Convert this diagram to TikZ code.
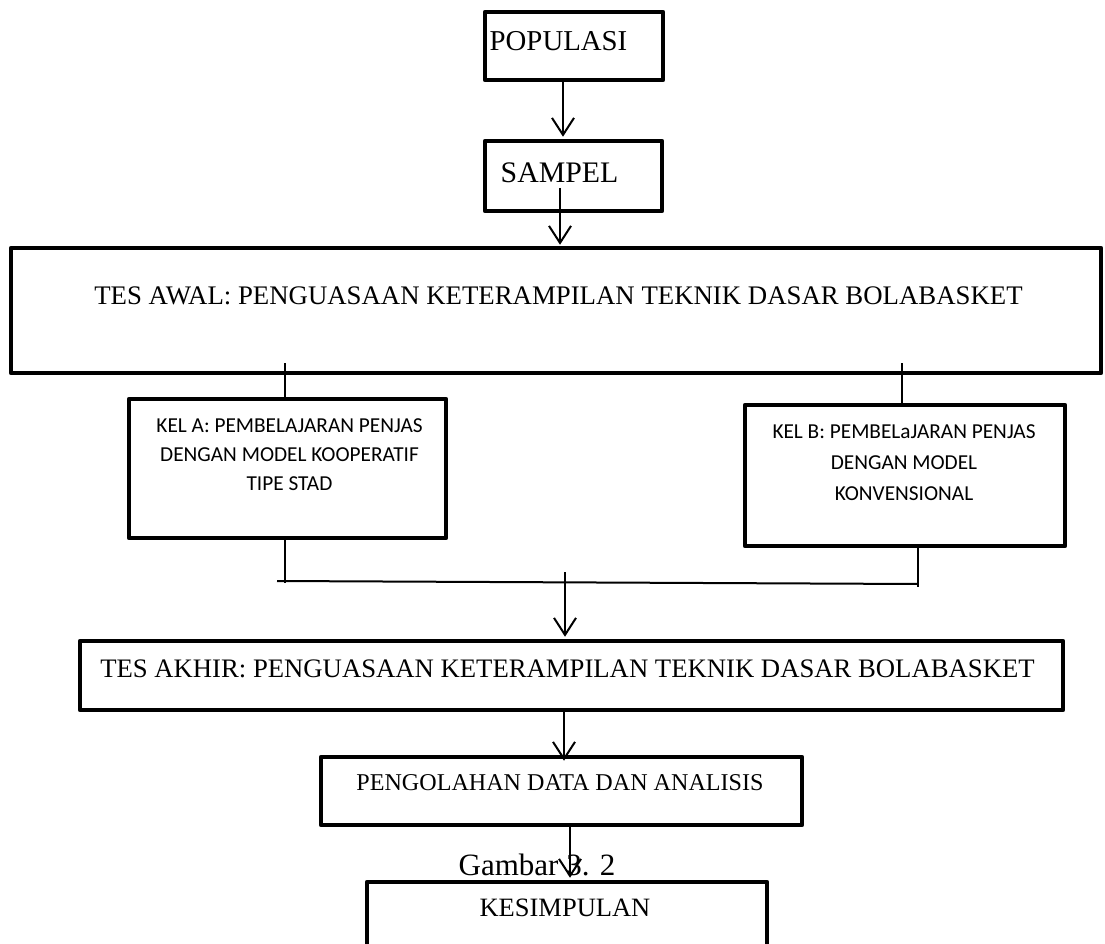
\documentclass[tikz,border=0pt]{standalone}
\usepackage{fontspec}
\setmainfont{Liberation Serif}
\newfontfamily\calibri{Carlito}
\usetikzlibrary{arrows.meta,calc}
\begin{document}
\begin{tikzpicture}[x=1pt,y=-1pt,
  box/.style={draw,line width=4.5pt,line join=round,inner sep=0pt,minimum width=#1},
  lbl/.style={inner sep=0pt,anchor=center},
  conn/.style={line width=2pt},
  arr/.style={line width=2pt,-{Straight Barb[length=17pt,width=22pt]}}]
\useasboundingbox (0,0) rectangle (1105,944);
\clip (0,0) rectangle (1105,944);
\fill[white] (0,0) rectangle (1105,944);
% boxes (path centres)
\node[box=178pt,minimum height=68pt] (pop) at (574,46) {};
\node[box=177pt,minimum height=70pt] (sam) at (573.5,176) {};
\node[box=1090pt,minimum height=125pt] (awal) at (556,310.5) {};
\node[box=317pt,minimum height=139pt] (kela) at (287.5,468.5) {};
\node[box=320pt,minimum height=141pt] (kelb) at (905,475.5) {};
\node[box=983pt,minimum height=69pt] (akhir) at (571.5,675.5) {};
\node[box=481pt,minimum height=68pt] (olah) at (561.5,791) {};
\node[box=400pt,minimum height=100pt] (simp) at (567,932) {};
% texts
\node[lbl,font=\fontsize{28.8}{30}\selectfont] (tpop) at (558.5,41) {POPULASI};
\node[lbl,font=\fontsize{29.8}{30}\selectfont] (tsam) at (559.5,172.5) {SAMPEL};
\node[lbl,font=\fontsize{26.8}{30}\selectfont] (tawal) at (558.5,296) {TES AWAL: PENGUASAAN KETERAMPILAN TEKNIK DASAR BOLABASKET};
\node[inner sep=0pt,anchor=north,align=center,font=\calibri\fontsize{21.3}{29}\selectfont] (tkela) at (289.5,418) {KEL A: PEMBELAJARAN PENJAS\\DENGAN MODEL KOOPERATIF\\TIPE STAD};
\node[inner sep=0pt,anchor=north,align=center,font=\calibri\fontsize{21.3}{31}\selectfont] (tkelb) at (904,424) {KEL B: PEMBELaJARAN PENJAS\\DENGAN MODEL\\KONVENSIONAL};
\node[lbl,font=\fontsize{26.7}{30}\selectfont] (takhir) at (567.5,669) {TES AKHIR: PENGUASAAN KETERAMPILAN TEKNIK DASAR BOLABASKET};
\node[lbl,font=\fontsize{24.1}{30}\selectfont] (tolah) at (560,783) {PENGOLAHAN DATA DAN ANALISIS};
\node[lbl,font=\fontsize{26.5}{30}\selectfont] (tsimp) at (565,908) {KESIMPULAN};
% connector coordinates
\coordinate (c1) at (563,0);
\coordinate (c2) at (560,188);
\coordinate (c3) at (285,363);
\coordinate (c4) at (902,363);
\coordinate (c5) at (285,583);
\coordinate (c6) at (918,587);
\coordinate (c7) at (565,572);
\coordinate (c8) at (564,0);
\coordinate (c9) at (570,0);
\coordinate (h1) at (277,581);
\coordinate (h2) at (918,584);
% connectors
\draw[arr] (pop.south -| c1) -- ($(sam.north -| c1)+(0,-2)$);
\draw[arr] (c2) -- ($(awal.north -| c2)+(0,-1)$);
\draw[conn] (c3) -- ($(kela.north -| c3)+(0,3)$);
\draw[conn] (c4) -- (kelb.north -| c4);
\draw[conn] ($(kela.south -| c5)+(0,-1)$) -- (c5);
\draw[conn] (kelb.south -| c6) -- (c6);
\draw[conn] (h1) -- (h2);
\draw[arr] (c7) -- ($(akhir.north -| c7)+(0,-2)$);
\draw[arr] (akhir.south -| c8) -- ($(olah.north -| c8)+(0,6)$);
\draw[arr] (olah.south -| c9) -- ($(simp.north -| c9)+(0,-2)$);
\node[lbl,font=\fontsize{31}{33}\selectfont] (gambar) at (537,865) {Gambar 3. 2};
\end{tikzpicture}
\end{document}
